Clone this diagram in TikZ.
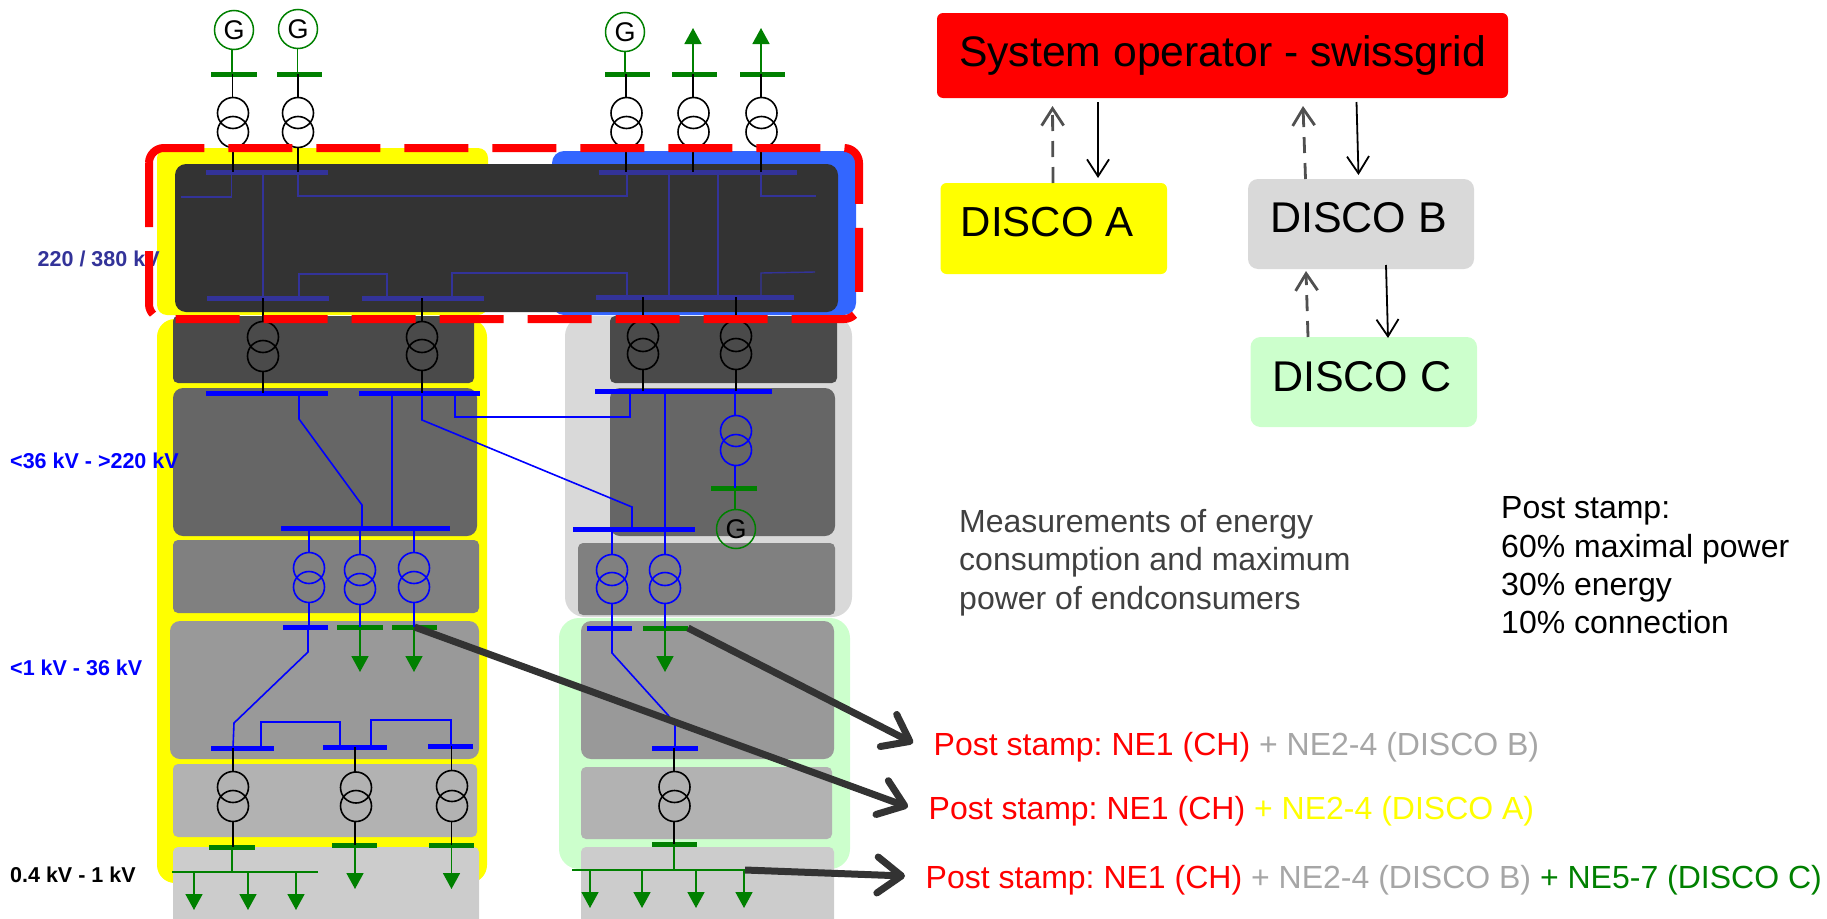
\documentclass[tikz,border=0pt]{standalone}
\usepackage{fontspec}
\setmainfont{Liberation Sans}
\usetikzlibrary{arrows.meta}
\definecolor{grn}{HTML}{008000}
\definecolor{dbl}{HTML}{333399}
\definecolor{blu}{HTML}{0000FF}
\definecolor{mblue}{HTML}{3366FF}
\definecolor{yel}{HTML}{FFFF00}
\definecolor{rd}{HTML}{FF0000}
\definecolor{lgrey}{HTML}{D9D9D9}
\definecolor{lgreen}{HTML}{CCFFCC}
\definecolor{tgrey}{HTML}{A6A6A6}
\definecolor{tdark}{HTML}{404040}
\definecolor{darr}{HTML}{333333}
\definecolor{dash}{HTML}{505050}
\definecolor{pa}{HTML}{4A4A4A}
\definecolor{pb}{HTML}{666666}
\definecolor{pc}{HTML}{808080}
\definecolor{pd}{HTML}{999999}
\definecolor{pe}{HTML}{B2B2B2}
\definecolor{pf}{HTML}{CCCCCC}
\newcommand{\fs}[1]{\fontsize{#1}{38.4}\selectfont}
\newcommand{\pnl}[7]{\node[panel,fill=#2,rounded corners=#7pt,minimum width={(#5-#3)*1pt},minimum height={(#6-#4)*1pt}] (#1) at ({(#3+#5)/2},{(#4+#6)/2}) {};}
\newcommand{\bus}[5]{\node[#2,minimum width={(#4-#3)*1pt}] (#1) at ({(#3+#4)/2},#5) {};}
\newcommand{\xf}[5]{\node[#2] (#1a) at (#3,#4) {}; \node[#2] (#1b) at (#3,#5) {};}
\newcommand{\vx}[4]{\draw[#1] (#2,0 |- #3) -- (#2,0 |- #4);}
\tikzset{
  x=1pt,y=-1pt,
  panel/.style={inner sep=0pt,outer sep=0pt,draw=none},
  busG/.style={fill=grn,inner sep=0pt,outer sep=0pt,minimum height=5pt},
  busB/.style={fill=blu,inner sep=0pt,outer sep=0pt,minimum height=5pt},
  busD/.style={fill=dbl,inner sep=0pt,outer sep=0pt,minimum height=5pt},
  feeder/.style={fill=grn,inner sep=0pt,outer sep=0pt,minimum height=1.6pt},
  gen/.style={circle,draw=grn,line width=1.5pt,minimum size=39pt,inner sep=0pt,outer sep=0pt,text=black,font=\fs{27}},
  xfK/.style={circle,draw=black,line width=1.6pt,minimum size=31pt,inner sep=0pt,outer sep=0pt},
  xfB/.style={circle,draw=blu,line width=1.6pt,minimum size=31pt,inner sep=0pt,outer sep=0pt},
  wk/.style={draw=black,line width=1.7pt},
  wg/.style={draw=grn,line width=1.7pt},
  wb/.style={draw=blu,line width=1.6pt},
  wd/.style={draw=dbl,line width=1.4pt},
  load/.style={draw=grn,line width=1.7pt,-{Triangle[length=16pt,width=17pt,fill=grn]}},
  bigarr/.style={draw=darr,line width=7pt,-{Straight Barb[length=24pt,width=36pt,round]}},
  sol/.style={draw=black,line width=1.8pt,-{Straight Barb[length=17pt,width=22pt]}},
  das/.style={draw=dash,line width=2.8pt,dash pattern=on 16pt off 10pt,-{Straight Barb[length=17pt,width=22pt]}},
  box/.style={inner sep=0pt,outer sep=0pt,rounded corners=6pt},
  kv/.style={anchor=base west,inner sep=0pt,font=\bfseries\fs{21.5}},
  ps/.style={anchor=base west,inner sep=0pt,font=\frenchspacing\fs{32}},
}
\begin{document}
\begin{tikzpicture}
\useasboundingbox (0,0) rectangle (1827,918);
\clip (0,0) rectangle (1827,918);
% backgrounds
\pnl{yT}{yel}{157}{148}{488}{315}{10}
\pnl{blT}{mblue}{552}{151}{856}{315}{12}
\pnl{yL}{yel}{157}{319}{487}{883}{18}
\pnl{gR}{lgrey}{565}{316}{852}{617}{20}
\pnl{grR}{lgreen}{559}{618}{850}{869}{20}
\pnl{p0}{darr}{175}{164}{838}{312}{11}
\pnl{p1}{pa}{173}{316}{474}{383}{5}
\pnl{p2}{pb}{173}{388}{477}{536}{10}
\pnl{p3}{pc}{173}{540}{479}{613}{5}
\pnl{p4}{pd}{170}{621}{479}{759}{10}
\pnl{p5}{pe}{173}{764}{477}{837}{5}
\pnl{p6}{pf}{173}{847}{479}{930}{5}
\pnl{q1}{pa}{610}{316}{837}{383}{5}
\pnl{q2}{pb}{610}{388}{835}{536}{10}
\pnl{q3}{pc}{578}{543}{835}{615}{5}
\pnl{q4}{pd}{581}{621}{834}{759}{10}
\pnl{q5}{pe}{581}{767}{832}{839}{5}
\pnl{q6}{pf}{581}{847}{834}{930}{5}
% generators, transformers, bars
\node[gen] (g1) at (234,30) {G};
\node[gen] (g2) at (298,29) {G};
\node[gen] (g3) at (625,32) {G};
\node[gen] (g4) at (736,529) {G};
\bus{tb1}{busG}{211}{257}{74}
\bus{tb2}{busG}{277}{322}{74}
\bus{tb3}{busG}{605}{650}{74}
\bus{tb4}{busG}{672}{717}{74}
\bus{tb5}{busG}{740}{785}{74}
\xf{T1}{xfK}{233}{113}{132}
\xf{T2}{xfK}{298}{113}{132}
\xf{T3}{xfK}{626.5}{113}{132}
\xf{T4}{xfK}{693.5}{113}{132}
\xf{T5}{xfK}{761.5}{113}{132}
\bus{D1}{busD}{206}{328}{172}
\bus{D2}{busD}{599}{797}{172}
\bus{D3}{busD}{207}{329}{298}
\bus{D4}{busD}{362}{484}{298}
\bus{D5}{busD}{596}{794}{297}
\xf{T6}{xfK}{263}{337}{356}
\xf{T7}{xfK}{422}{337}{355}
\xf{T8}{xfK}{643}{336}{354}
\xf{T9}{xfK}{736}{336}{354}
\bus{B1}{busB}{206}{328}{393}
\bus{B2}{busB}{359}{480}{393}
\bus{B3}{busB}{595}{772}{391}
\xf{T10}{xfB}{736}{431}{450}
\bus{tb6}{busG}{711}{757}{488}
\bus{B4}{busB}{281}{450}{528}
\bus{B5}{busB}{573}{695}{529}
\xf{T11}{xfB}{309}{568}{587}
\xf{T12}{xfB}{360}{570}{589}
\xf{T13}{xfB}{414}{568}{587}
\xf{T14}{xfB}{612}{570}{588}
\xf{T15}{xfB}{665}{570}{588}
\bus{B6}{busB}{283}{328}{627}
\bus{gb7}{busG}{337}{383}{627}
\bus{gb8}{busG}{392}{437}{627}
\bus{B9}{busB}{587}{632}{628}
\bus{gb10}{busG}{643}{688}{628}
\bus{B11}{busB}{211}{274}{748}
\bus{B12}{busB}{323}{387}{747}
\bus{B13}{busB}{428}{473}{746}
\bus{B14}{busB}{652}{698}{748}
\xf{T16}{xfK}{233}{787}{806}
\xf{T17}{xfK}{356}{787.5}{806}
\xf{T18}{xfK}{452}{786}{806}
\xf{T19}{xfK}{674.5}{787}{806}
\bus{gb15}{busG}{209}{255}{847}
\bus{gb16}{busG}{332}{377}{845}
\bus{gb17}{busG}{429}{474}{845}
\bus{gb18}{busG}{652}{697}{844}
\bus{F1}{feeder}{172}{318}{872}
\bus{F2}{feeder}{572}{745}{870}
% top connections
\vx{wg}{232}{g1.south}{tb1}
\vx{wk}{232.5}{tb1}{T1a.north}
\vx{wk}{233}{T1b.south}{D1}
\vx{wg}{297.5}{g2.south}{tb2}
\vx{wk}{298}{tb2}{T2a.north}
\vx{wk}{298}{T2b.south}{D1}
\vx{wg}{625}{g3.south}{tb3}
\vx{wk}{626}{tb3}{T3a.north}
\vx{wk}{626}{T3b.south}{D2}
\vx{wk}{693}{tb4}{T4a.north}
\vx{wk}{693}{T4b.south}{D2}
\vx{wk}{761}{tb5}{T5a.north}
\vx{wk}{761}{T5b.south}{D2}
\coordinate (u4) at (693,28);
\coordinate (u5) at (761,28);
\draw[load] (693,0 |- tb4) -- (u4);
\draw[load] (761,0 |- tb5) -- (u5);
% 220/380 kV wiring
\draw[wd] (231.5,0 |- D1) -- (231.5,197) -- (181,197);
\vx{wd}{263}{D1}{D3}
\draw[wd] (298,0 |- D1) -- (298,196) -- (627,196) -- (627,0 |- D2);
\draw[wd] (299,0 |- D3) -- (299,274) -- (387,274) -- (387,0 |- D4);
\draw[wd] (452,0 |- D4) -- (452,273) -- (627,273) -- (627,0 |- D5);
\vx{wd}{669}{D2}{D5}
\vx{wd}{718}{D2}{D5}
\draw[wd] (761,0 |- D2) -- (761,196) -- (816,196);
\draw[wd] (761,0 |- D5) -- (761,273) -- (815,272);
% transformers to 36-220 kV
\vx{wk}{263}{D3}{T6a.north}
\vx{wk}{263}{T6b.south}{B1}
\vx{wk}{422}{D4}{T7a.north}
\vx{wk}{422}{T7b.south}{B2}
\vx{wk}{643}{D5}{T8a.north}
\vx{wk}{643}{T8b.south}{B3}
\vx{wk}{736}{D5}{T9a.north}
\vx{wk}{736}{T9b.south}{B3}
\draw[wb] (299,0 |- B1) -- (299,419) -- (362,505) -- (362,0 |- B4);
\vx{wb}{392}{B2}{B4}
\draw[wb] (422,0 |- B2) -- (422,420) -- (632,507) -- (632,0 |- B5);
\draw[wb] (455,0 |- B2) -- (455,417) -- (630,417) -- (630,0 |- B3);
\vx{wb}{665}{B3}{B5}
\vx{wb}{735}{B3}{T10a.north}
\vx{wb}{735}{T10b.south}{tb6}
\vx{wg}{735}{tb6}{g4.north}
% 1-36 kV transformers
\vx{wb}{309}{B4}{T11a.north}
\vx{wb}{309}{T11b.south}{B6}
\vx{wb}{360}{B4}{T12a.north}
\vx{wb}{360}{T12b.south}{gb7}
\vx{wb}{414}{B4}{T13a.north}
\vx{wb}{414}{T13b.south}{gb8}
\vx{wb}{612}{B5}{T14a.north}
\vx{wb}{612}{T14b.south}{B9}
\vx{wb}{665}{B5}{T15a.north}
\vx{wb}{665}{T15b.south}{gb10}
\coordinate (l1) at (360,672);
\coordinate (l2) at (414,672);
\coordinate (l3) at (665,672);
\draw[load] (360,0 |- gb7) -- (l1);
\draw[load] (414,0 |- gb8) -- (l2);
\draw[load] (665,0 |- gb10) -- (l3);
% medium voltage rings
\draw[wb] (308,0 |- B6) -- (308,652) -- (234,723) -- (233,0 |- B11);
\draw[wb] (261,0 |- B11) -- (261,722) -- (340,722) -- (340,0 |- B12);
\draw[wb] (371,0 |- B12) -- (371,720) -- (451,720) -- (451,0 |- B13);
\draw[wb] (612,0 |- B9) -- (612,653) -- (668,715) -- (675,725) -- (675,0 |- B14);
% low voltage
\vx{wk}{233}{B11}{T16a.north}
\vx{wk}{233}{T16b.south}{gb15}
\vx{wk}{355}{B12}{T17a.north}
\vx{wk}{355}{T17b.south}{gb16}
\vx{wk}{451.5}{B13}{T18a.north}
\vx{wk}{451.5}{T18b.south}{gb17}
\vx{wk}{674}{B14}{T19a.north}
\vx{wk}{674}{T19b.south}{gb18}
\vx{wg}{232}{gb15}{F1}
\vx{wg}{674}{gb18}{F2}
\coordinate (f1) at (194,910);
\coordinate (f2) at (248,910);
\coordinate (f3) at (296,910);
\coordinate (f4) at (355,889);
\coordinate (f5) at (451.5,889);
\coordinate (f6) at (590,908);
\coordinate (f7) at (642,908);
\coordinate (f8) at (696,908);
\coordinate (f9) at (744,908);
\draw[load] (194,0 |- F1) -- (f1);
\draw[load] (248,0 |- F1) -- (f2);
\draw[load] (296,0 |- F1) -- (f3);
\draw[load] (355,0 |- gb16) -- (f4);
\draw[load] (451.5,0 |- gb17) -- (f5);
\draw[load] (590,0 |- F2) -- (f6);
\draw[load] (642,0 |- F2) -- (f7);
\draw[load] (696,0 |- F2) -- (f8);
\draw[load] (744,0 |- F2) -- (f9);
% voltage labels
\node[kv,text=dbl] (lv1) at (37.5,266) {220 / 380 kV};
\node[kv,text=blu] (lv2) at (10,468) {<36 kV - >220 kV};
\node[kv,text=blu] (lv3) at (10,675) {<1 kV - 36 kV};
\node[kv,text=black] (lv4) at (10,882) {0.4 kV - 1 kV};
% red dashed region
\draw[draw=rd,line width=8pt,dash pattern=on 64pt off 24pt]
  (149,163) .. controls (149,154.7) and (155.7,148) .. (164,148) -- (844,148)
  .. controls (852.3,148) and (859,154.7) .. (859,163) -- (859,304)
  .. controls (859,312.3) and (852.3,319) .. (844,319) -- (164,319)
  .. controls (155.7,319) and (149,312.3) .. (149,304) -- (149,163);
% big arrows
\coordinate (a1) at (913,743);
\coordinate (a2) at (908,807);
\coordinate (a3) at (905,876);
\draw[bigarr] (gb10.east) -- (a1);
\draw[bigarr] (gb8.center) -- (a2);
\draw[bigarr] (F2.east) -- (a3);
% organisation boxes
\node[box,fill=rd,minimum width=571pt,minimum height=85pt] (so) at (1222.5,55.5) {};
\node[anchor=base,inner sep=0pt,font=\fs{42.7}] (sot) at (1222.5,66.5) {System operator - swissgrid};
\node[box,fill=yel,minimum width=226.5pt,minimum height=91pt] (dA) at (1053.75,228.5) {};
\node[anchor=base west,inner sep=0pt,font=\fs{42}] (dAt) at (960.5,236) {DISCO A};
\node[box,fill=lgrey,rounded corners=10pt,minimum width=226pt,minimum height=90pt] (dB) at (1361,224) {};
\node[anchor=base west,inner sep=0pt,font=\fs{43}] (dBt) at (1270,232) {DISCO B};
\node[box,fill=lgreen,rounded corners=10pt,minimum width=226.5pt,minimum height=90pt] (dC) at (1363.75,382) {};
\node[anchor=base west,inner sep=0pt,font=\fs{43}] (dCt) at (1272,391) {DISCO C};
\coordinate (ua) at (1052.5,106);
\coordinate (ub) at (1303,106);
\coordinate (uc) at (1306,271);
\coordinate (da) at (1098,102);
\coordinate (db) at (1356.5,102);
\coordinate (dc) at (1386,265);
\draw[das] (1053,0 |- dA.north) -- (ua);
\draw[das] (1305.5,0 |- dB.north) -- (ub);
\draw[das] (1308,0 |- dC.north) -- (uc);
\draw[sol] (da) -- (1098,178);
\draw[sol] (db) -- (1358.5,175);
\draw[sol] (dc) -- (1388,338);
% notes
\node[anchor=north west,inner sep=0pt,align=left,text=tdark,font=\fs{32}] (n1) at (959,509) {Measurements of energy\\consumption and maximum\\power of endconsumers};
\node[anchor=north west,inner sep=0pt,align=left,font=\frenchspacing\fs{32}] (n2) at (1501,496.5) {Post stamp:\\60\% maximal power\\30\% energy\\10\% connection};
\node[ps] (s1) at (933.5,755) {\textcolor{rd}{Post stamp: NE1 (CH)} \textcolor{tgrey}{+ NE2-4 (DISCO B)}};
\node[ps] (s2) at (928.5,819) {\textcolor{rd}{Post stamp: NE1 (CH)} \textcolor{yel}{+ NE2-4 (DISCO A)}};
\node[ps] (s3) at (925.5,888) {\textcolor{rd}{Post stamp: NE1 (CH)} \textcolor{tgrey}{+ NE2-4 (DISCO B)} \textcolor{grn}{+ NE5-7 (DISCO C)}};
\end{tikzpicture}
\end{document}
